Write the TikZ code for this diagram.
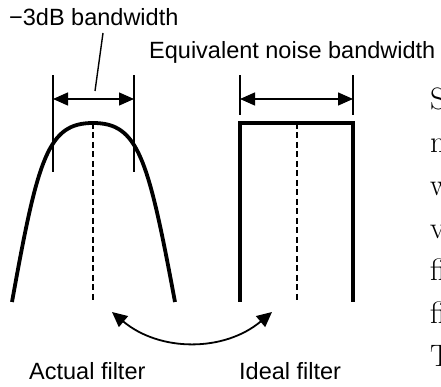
\documentclass[tikz,border=0pt]{standalone}
\usepackage{fontspec}
\newfontfamily\labelfont{Liberation Sans}
\newfontfamily\edgefont{Latin Modern Roman}
\usetikzlibrary{arrows.meta,positioning}

\begin{document}
\begin{tikzpicture}[
    x=1pt, y=1pt,
    response/.style={line width=3.8pt},
    guide/.style={line width=1.4pt},
    centreline/.style={line width=1.4pt, dash pattern=on 6pt off 3.5pt},
    dimarrow/.style={{Triangle[length=15pt,width=13pt]}-{Triangle[length=15pt,width=13pt]}, line width=1.4pt},
    swaparrow/.style={{Triangle[length=15pt,width=14pt]}-{Triangle[length=15pt,width=14pt]}, line width=1.8pt},
    lbl/.style={anchor=base west, inner sep=0pt, font=\labelfont\fontsize{23.5}{28}\selectfont},
    edgetext/.style={anchor=base west, inner sep=0pt, font=\edgefont\fontsize{31}{36}\selectfont}
]
\useasboundingbox (0,0) rectangle (441,387);

% Actual filter: response curve and -3dB bandwidth
\draw[response] (12,85) .. controls (38,230) and (48,264) .. (93,264)
                        .. controls (138,264) and (148,230) .. (175,85);
\draw[centreline] (93,264) -- (93,85);
\coordinate (aL) at (53,288);
\coordinate (aR) at (134,288);
\draw[guide] (53,215) -- (53,312);
\draw[guide] (134,215) -- (134,312);
\draw[dimarrow] (aL) -- (aR);

% Ideal filter: rectangle and equivalent noise bandwidth
\draw[response] (240,85) -- (240,264) -- (353,264) -- (353,85);
\draw[centreline] (297,264) -- (297,85);
\coordinate (iL) at (240,288);
\coordinate (iR) at (353,288);
\draw[guide] (240,272) -- (240,312);
\draw[guide] (353,272) -- (353,312);
\draw[dimarrow] (iL) -- (iR);

% labels
\node[lbl] (bw3db) at (9,361) {−3dB bandwidth};
\node[lbl] (enbw) at (149,328) {Equivalent noise bandwidth};
\node[lbl] (actual) at (29,7) {Actual filter};
\node[lbl] (ideal) at (239,7) {Ideal filter};

\coordinate (leadtop) at (103,354);
\coordinate (leadbot) at (95,296);
\draw[guide] (leadtop) -- (leadbot);

% compare the two
\coordinate (cmpL) at (112,75);
\coordinate (cmpR) at (272,75);
\draw[swaparrow] (cmpL) to[out=-40, in=-140] (cmpR);

% running text cut at the right edge
\foreach \t/\yy in {S/277, m/234, w/191, v/148, fi/106, fi/63, T/20}
  \node[edgetext] (side\yy) at (430,\yy) {\t};

\end{tikzpicture}
\end{document}
